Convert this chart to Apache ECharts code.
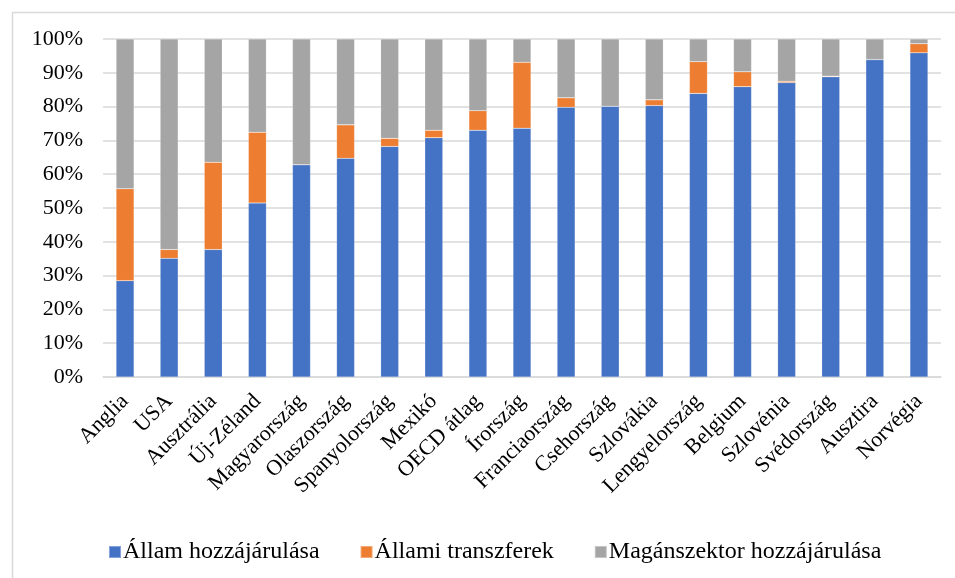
<!DOCTYPE html>
<html>
<head>
<meta charset="utf-8">
<script src="https://cdn.jsdelivr.net/npm/echarts@6/dist/echarts.min.js"></script>
<style>
  html, body { margin: 0; padding: 0; background: #fff; }
  #chart { width: 955px; height: 578px; }
</style>
</head>
<body>
<div id="chart"></div>
<script>
const countries = ['Anglia', 'USA', 'Ausztrália', 'Új-Zéland', 'Magyarország', 'Olaszország',
  'Spanyolország', 'Mexikó', 'OECD átlag', 'Írország', 'Franciaország', 'Csehország',
  'Szlovákia', 'Lengyelország', 'Belgium', 'Szlovénia', 'Svédország', 'Ausztira', 'Norvégia'];

// Állam hozzájárulása
const allamValues = [28.5, 35.1, 37.7, 51.5, 62.8, 64.7, 68.2, 70.8, 73.0, 73.6, 79.8, 80.1,
  80.3, 83.9, 85.9, 87.1, 88.8, 93.9, 95.9];
// Állami transzferek
const transzferValues = [27.2, 2.6, 25.8, 20.9, 0, 9.9, 2.4, 2.2, 5.8, 19.5, 2.8, 0,
  1.7, 9.4, 4.4, 0.4, 0.2, 0, 2.7];
// Magánszektor hozzájárulása
const maganValues = [44.3, 62.3, 36.5, 27.6, 37.2, 25.4, 29.4, 27.0, 21.2, 6.9, 17.4, 19.9,
  18.0, 6.7, 9.7, 12.5, 11.0, 6.1, 1.4];

const seriesNames = ['Állam hozzájárulása', 'Állami transzferek', 'Magánszektor hozzájárulása'];
const colors = ['#4472C4', '#ED7D31', '#A5A5A5'];
const font = '"Liberation Serif", "Times New Roman", serif';

const makeSeries = (name, data, color) => ({
  name,
  type: 'bar',
  stack: 'total',
  barWidth: 18,
  itemStyle: { color, borderColor: 'rgba(255,255,255,0.35)', borderWidth: 0.5 },
  emphasis: { disabled: true },
  data
});

let chart = echarts.init(document.getElementById('chart'));

chart.setOption({
  animation: false,
  color: colors,
  grid: { left: 103, right: 14, top: 39, bottom: 201 },
  legend: {
    left: 103,
    top: 535,
    itemWidth: 12,
    itemHeight: 12,
    itemGap: 40,
    icon: 'rect',
    textStyle: { fontFamily: font, fontSize: 24, color: '#000', padding: [0, 0, 0, -3] },
    data: seriesNames
  },
  xAxis: {
    type: 'category',
    data: countries,
    axisTick: { show: false },
    axisLine: { lineStyle: { color: '#d9d9d9', width: 1.5 } },
    axisLabel: {
      interval: 0,
      rotate: 45,
      margin: 21,
      fontFamily: font,
      fontSize: 22,
      color: '#000'
    }
  },
  yAxis: {
    type: 'value',
    min: 0,
    max: 100,
    interval: 10,
    axisLine: { show: false },
    axisTick: { show: false },
    splitLine: { lineStyle: { color: '#d9d9d9', width: 1.5 } },
    axisLabel: {
      formatter: '{value}%',
      margin: 20,
      fontFamily: font,
      fontSize: 22,
      color: '#000'
    }
  },
  series: [
    makeSeries(seriesNames[0], allamValues, colors[0]),
    makeSeries(seriesNames[1], transzferValues, colors[1]),
    makeSeries(seriesNames[2], maganValues, colors[2])
  ],
  graphic: [
    {
      type: 'rect',
      left: 10,
      top: 10,
      shape: { width: 960, height: 590 },
      style: { fill: 'none', stroke: '#d9d9d9', lineWidth: 1.5 },
      silent: true
    }
  ]
});
</script>
</body>
</html>
